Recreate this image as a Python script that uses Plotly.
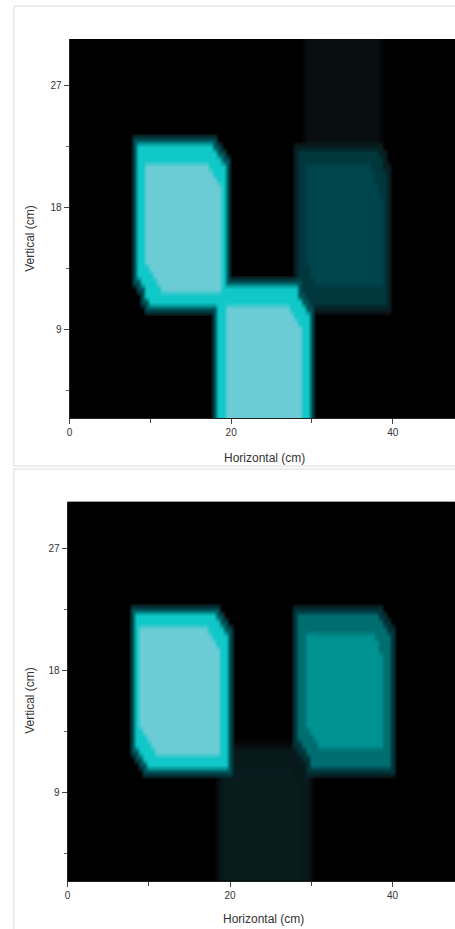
import numpy as np
import plotly.graph_objects as go

# ---------------- data (cm) ----------------
# top image: blocks A (left), B (lower middle), C (right), D (faint, above C)
top_x0 = [8.4, 18.4, 28.5, 29.4]
top_x1 = [19.4, 29.5, 39.3, 38.2]
top_y0 = [10.7, -1.0, 10.8, 22.2]
top_y1 = [22.7, 12.2, 22.3, 31.5]
top_dx = [1.8, 1.6, 1.2, 0.0]
top_dy = [2.0, 1.9, 2.0, 0.0]
top_edge = [0.80, 0.80, 0.22, 0.04]
top_face = [1.00, 1.00, 0.30, 0.04]

# bottom image: blocks A (left), C (right), B (faint, lower middle)
bot_x0 = [8.2, 28.5, 18.6]
bot_x1 = [19.7, 39.7, 29.6]
bot_y0 = [10.6, 10.8, -1.0]
bot_y1 = [22.4, 22.2, 12.0]
bot_dx = [1.9, 1.6, 1.0]
bot_dy = [2.0, 1.9, 1.5]
bot_edge = [0.80, 0.45, 0.07]
bot_face = [1.00, 0.55, 0.08]

x_ticks = [0, 20, 40]
x_minor = [10, 30]
y_ticks = [9, 18, 27]
y_minor = [4.5, 13.5, 22.5]
x_title = "Horizontal (cm)"
y_title = "Vertical (cm)"

# ---------------- styling ----------------
STEP = 0.5
INSET_X = 0.8
INSET_Y = 1.3
GLOW = 0.45
GX = 0.5
GY = 0.5
xs = np.arange(0.0, 48.01, STEP)
ys = np.arange(2.0, 31.51, STEP)
X, Y = np.meshgrid(xs, ys)

colorscale = [
    [0.00, "rgb(0,0,0)"],
    [0.04, "rgb(9,14,16)"],
    [0.08, "rgb(8,28,30)"],
    [0.22, "rgb(0,55,60)"],
    [0.30, "rgb(0,68,76)"],
    [0.45, "rgb(0,110,112)"],
    [0.55, "rgb(0,145,145)"],
    [0.80, "rgb(16,200,200)"],
    [1.00, "rgb(108,204,214)"],
]


def hex_mask(x0, x1, y0, y1, dx, dy):
    m = (X >= x0) & (X <= x1) & (Y >= y0) & (Y <= y1)
    if dx > 0 and dy > 0:
        m &= ((X - (x1 - dx)) / dx + (Y - (y1 - dy)) / dy) <= 1
        m &= (((x0 + dx) - X) / dx + ((y0 + dy) - Y) / dy) <= 1
    return m


def build_z(x0s, x1s, y0s, y1s, dxs, dys, edges, faces):
    z = np.zeros_like(X)
    for x0, x1, y0, y1, dx, dy, e, f in zip(x0s, x1s, y0s, y1s, dxs, dys, edges, faces):
        z = np.maximum(z, GLOW * e * hex_mask(x0 - GX, x1 + GX, y0 - GY, y1 + GY, dx, dy))
        z = np.maximum(z, e * hex_mask(x0, x1, y0, y1, dx, dy))
        z = np.maximum(z, f * hex_mask(x0 + INSET_X, x1 - INSET_X, y0 + INSET_Y, y1 - INSET_Y, dx, dy))
    return z


z_top = build_z(top_x0, top_x1, top_y0, top_y1, top_dx, top_dy, top_edge, top_face)
z_bot = build_z(bot_x0, bot_x1, bot_y0, bot_y1, bot_dx, bot_dy, bot_edge, bot_face)

W, H = 455, 929
FONT = "Liberation Sans, Arial, sans-serif"


def px(x):
    return x / W


def py(y):
    return 1 - y / H


fig = go.Figure()
for z, xa, ya in [(z_top, "x", "y"), (z_bot, "x2", "y2")]:
    fig.add_trace(go.Heatmap(
        x=xs, y=ys, z=z, xaxis=xa, yaxis=ya,
        zmin=0, zmax=1, colorscale=colorscale, zsmooth="best",
        showscale=False, hoverinfo="skip",
    ))


def xaxis_style(domain, anchor):
    return dict(
        domain=domain, anchor=anchor, range=[0, 47.7],
        tickmode="array", tickvals=x_ticks, ticks="outside", ticklen=5,
        tickcolor="#444", tickwidth=1,
        minor=dict(tickvals=x_minor, ticks="outside", ticklen=4, tickcolor="#444"),
        showgrid=False, zeroline=False, showline=True, linecolor="#222",
        tickfont=dict(size=10, color="#333", family=FONT),
    )


def yaxis_style(domain, anchor):
    return dict(
        domain=domain, anchor=anchor, range=[2.45, 30.45],
        tickmode="array", tickvals=y_ticks, ticks="outside", ticklen=5,
        tickcolor="#444", tickwidth=1,
        minor=dict(tickvals=y_minor, ticks="outside", ticklen=3, tickcolor="#666"),
        showgrid=False, zeroline=False, showline=True, linecolor="#222",
        tickfont=dict(size=10, color="#333", family=FONT),
    )


fig.update_layout(
    width=W, height=H,
    margin=dict(l=0, r=0, t=0, b=0),
    paper_bgcolor="white", plot_bgcolor="black",
    showlegend=False,
    xaxis=xaxis_style([px(67), 1.0], "y"),
    yaxis=yaxis_style([py(418), py(39)], "x"),
    xaxis2=xaxis_style([px(65), 1.0], "y2"),
    yaxis2=yaxis_style([py(881), py(501.7)], "x2"),
)

ann_font = dict(size=12, color="#333", family=FONT)
for (tx, ty, txt, ang) in [
    (263, 458, x_title, 0), (27, 238, y_title, -90),
    (262, 919, x_title, 0), (27, 700, y_title, -90),
]:
    fig.add_annotation(x=px(tx), y=py(ty), xref="paper", yref="paper",
                       text=txt, showarrow=False, textangle=ang,
                       xanchor="center", yanchor="middle", font=ann_font)

# light panel frames
fig.add_shape(type="rect", xref="paper", yref="paper",
              x0=px(11), x1=1.01, y0=py(466), y1=py(6),
              line=dict(color="#dcdcdc", width=1), layer="below")
fig.add_shape(type="rect", xref="paper", yref="paper",
              x0=px(11), x1=1.01, y0=-0.01, y1=py(469),
              line=dict(color="#dcdcdc", width=1), layer="below")

fig.write_html(
    "out.html",
    config={"displayModeBar": False},
    post_script="document.body.style.margin='0';document.body.style.overflow='hidden';",
)
